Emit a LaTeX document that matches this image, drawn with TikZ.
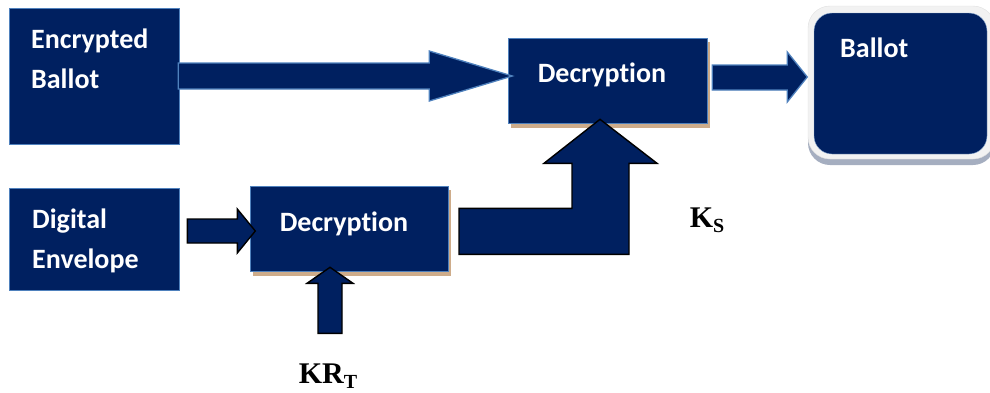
\documentclass[tikz,border=0pt]{standalone}
\usepackage{fontspec}
\usepackage{xcolor}
\usepackage{tikz}
\usetikzlibrary{calc, positioning}

\newfontfamily\boxfont[Ligatures=NoCommon]{Carlito}
\newfontfamily\keyfont{Liberation Serif}

\definecolor{navy}{RGB}{0,32,96}
\definecolor{edgeblue}{RGB}{79,129,189}
\definecolor{tanshadow}{RGB}{206,172,138}
\definecolor{rimgray}{RGB}{242,242,242}
\definecolor{rimshadow}{RGB}{165,174,192}

\begin{document}
\begin{tikzpicture}[
  x=1pt, y=-1pt,
  navybox/.style={
    draw=edgeblue, line width=0.6pt, fill=navy, inner sep=0pt
  },
  boxtext/.style={
    text=white, inner sep=0pt, align=left,
    font=\boxfont\bfseries\fontsize{28}{40}\selectfont
  },
  keylabel/.style={
    inner sep=0pt, font=\keyfont\bfseries\fontsize{30}{30}\selectfont
  },
  bluearrow/.style={fill=navy, draw=edgeblue, line width=1.3pt, line join=miter},
  blackarrow/.style={fill=navy, draw=black, line width=1.4pt, line join=miter}
]
\useasboundingbox (0,0) rectangle (990,392);

% ── Inputs ──────────────────────────────────────────────────
\node[navybox, minimum width=170, minimum height=136] (enc) at (94,76) {};
\node[boxtext, anchor=base west] (encT) at (31,48) {Encrypted};
\node[boxtext, anchor=base west] (encT2) at (31,88) {Ballot};

\node[navybox, minimum width=170, minimum height=102] (env) at (94,239) {};
\node[boxtext, anchor=base west] (envT) at (32,228) {Digital};
\node[boxtext, anchor=base west] (envT2) at (32,268) {Envelope};

% ── Decryption stages (tan drop shadow) ─────────────────────
\fill[tanshadow] (511,42) rectangle (710,128);
\node[navybox, minimum width=199, minimum height=85] (dec1) at (607.5,80.5) {};
\node[boxtext, anchor=base] (dec1T) at (602,82) {Decryption};

\fill[tanshadow] (253,190) rectangle (451,276);
\node[navybox, minimum width=198, minimum height=85] (dec2) at (349,228.5) {};
\node[boxtext, anchor=base] (dec2T) at (344,231) {Decryption};

% ── Output: rounded ballot with rim ─────────────────────────
\fill[rimshadow, rounded corners=22pt] (808,11) rectangle (995,165);
\fill[rimgray, draw=black!12, rounded corners=22pt] (808,6) rectangle (995,159);
\node[fill=navy, draw=edgeblue!60, line width=0.4pt, rounded corners=18pt,
      minimum width=173, minimum height=141, inner sep=0pt] (ballot) at (900.5,83.5) {};
\node[boxtext, anchor=base west] (ballotT) at (840,57) {Ballot};

% ── Block arrows ────────────────────────────────────────────
% Encrypted Ballot -> Decryption
\draw[bluearrow] ($(enc.east)+(-1,-13)$) -- ++(251,0) -- ++(0,-12) -- ++(83,25)
    -- ++(-83,25) -- ++(0,-12) -- ++(-251,0) -- cycle;
% Decryption -> Ballot
\draw[bluearrow] ($(dec1.east)+(5,-15.5)$) -- ++(75,0) -- ++(0,-13) -- ++(20,25)
    -- ++(-20,25) -- ++(0,-12) -- ++(-75,0) -- cycle;
% Digital Envelope -> Decryption
\draw[blackarrow] ($(env.east)+(8,-20)$) -- ++(50,0) -- ++(0,-10) -- ++(18,22)
    -- ++(-18,22) -- ++(0,-10) -- ++(-50,0) -- cycle;
% KR_T key into lower Decryption
\draw[blackarrow] ($(dec2.south)+(-19,-4)$) -- ++(23,16) -- ++(-11,0) -- ++(0,50)
    -- ++(-24,0) -- ++(0,-50) -- ++(-11,0) -- cycle;
% session key K_S up into upper Decryption
\draw[blackarrow] ($(dec1.south)+(-7.5,-4)$) -- ++(57,44) -- ++(-28,0) -- ++(0,91)
    -- ++(-170,0) -- ++(0,-46) -- ++(113,0) -- ++(0,-45) -- ++(-28,0) -- cycle;

% ── Key labels ──────────────────────────────────────────────
\node[keylabel, anchor=base] (krt) at (328,383)
    {KR\raisebox{-5pt}{\fontsize{20}{20}\selectfont T}};
\node[keylabel, anchor=base] (ks) at (707,227)
    {K\raisebox{-5pt}{\fontsize{20}{20}\selectfont S}};

\end{tikzpicture}
\end{document}
